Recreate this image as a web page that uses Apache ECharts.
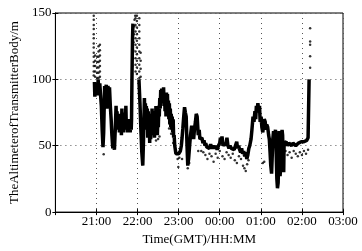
<!DOCTYPE html>
<html>
<head>
<meta charset="utf-8">
<script src="https://cdn.jsdelivr.net/npm/echarts@6/dist/echarts.min.js"></script>
<style>
html,body{margin:0;padding:0;background:#fff;}
#chart{width:362px;height:251px;}
</style>
</head>
<body>
<div id="chart"></div>
<script>
// minutes after 20:00 GMT
var xTickLabels = ['', '21:00', '22:00', '23:00', '00:00', '01:00', '02:00', '03:00'];
var yTicks = [0, 50, 100, 150];

var lineMinutes = [57.0,57.6,58.5,59.5,60.5,61.5,62.4,63.5,64.8,66.0,67.1,68.3,69.5,70.5,71.9,73.0,74.3,75.2,76.7,78.0,79.0,80.2,81.4,82.5,83.8,85.0,86.2,87.4,
88.6,89.3,90.0,90.7,91.4,92.1,92.8,93.5,94.2,95.0,95.7,96.4,97.1,97.8,98.5,99.2,100.0,100.7,101.4,102.1,102.9,103.6,104.3,105.0,105.7,106.4,107.1,107.8,108.5,109.2,110.0,110.7,111.2,
111.8,112.6,113.2,113.8,
122.0,123.5,125.0,126.2,127.6,128.7,
130.0,130.7,131.4,132.1,132.8,133.5,134.2,134.9,135.6,136.3,137.0,137.7,138.4,139.1,139.8,140.5,141.2,141.9,142.6,143.3,144.0,144.7,145.4,146.1,146.8,147.5,148.2,148.9,149.6,150.3,151.0,151.7,152.4,153.1,153.8,154.5,155.2,155.9,156.6,157.3,158.0,158.7,159.4,160.1,160.8,161.5,162.2,162.9,163.6,164.3,165.0,165.7,166.4,167.1,167.8,168.5,169.2,169.9,170.6,171.3,172.0,172.7,173.4,174.3,
176.0,177.9,180.0,181.4,182.5,183.9,185.0,186.1,187.4,188.6,189.8,191.0,192.2,193.3,194.5,195.7,197.3,
199.0,200.4,201.9,203.0,204.5,205.7,207.0,208.6,210.0,211.0,212.4,214.0,215.5,217.0,218.5,219.5,221.0,222.9,224.8,226.7,228.6,230.5,232.4,234.3,236.2,238.1,240.0,241.0,242.0,243.3,244.8,246.2,247.6,249.0,250.5,252.0,253.5,255.0,257.0,259.0,261.0,262.9,264.8,266.0,267.6,269.0,270.5,272.0,273.3,275.0,276.5,278.0,279.5,281.0,282.5,283.8,
285.7,287.0,288.6,290.0,291.4,292.5,293.5,294.5,295.7,297.0,298.1,299.0,300.4,301.5,302.9,304.0,305.0,306.4,307.5,308.6,310.0,311.4,312.4,313.5,314.5,315.7,316.5,317.5,318.6,319.5,320.5,321.4,322.4,323.4,324.3,325.3,326.0,326.7,327.4,328.1,329.0,330.0,331.0,331.8,332.6,333.4,334.0,335.5,337.0,339.0,341.0,343.0,345.0,347.0,349.0,351.0,353.0,355.0,357.0,359.0,361.0,363.0,365.0,367.0,369.0,370.5,371.5,372.0];

var altitude = [98,87,97,88,96,88,100,90,97,88,80,62,49,60,95,90,96,78,95,90,94,80,70,58,48,52,47,62,
80,66,76,62,74,64,72,60,74,62,70,58,78,64,70,60,75,64,72,62,80,64,70,60,68,62,70,61,68,60,66,62,70,
100,130,142,null,
100,82,60,45,35,55,
86,70,82,66,80,62,78,56,76,60,72,52,68,55,74,60,78,62,76,58,70,56,74,62,80,66,76,58,70,64,80,72,86,78,92,84,93,82,92,84,94,80,90,76,88,72,90,78,89,74,84,70,82,66,78,64,74,62,72,60,70,56,58,50,
44,43,44,43,46,50,56,63,72,79,75,72,50,35,40,48,58,
65,60,55,62,68,74,72,58,62,55,54,56,52,54,50,52,49,50,48,51,48,50,48,50,47,50,52,56,53,57,50,49,52,50,56,50,48,50,48,49,47,50,53,48,50,47,45,48,44,46,42,45,40,43,48,50,
55,62,72,68,76,70,80,75,82,76,80,68,72,64,60,66,70,68,62,66,64,58,55,45,35,29,40,55,61,50,58,62,45,25,18,22,40,61,45,27,35,50,62,58,40,30,52,51,53,50,52,51,50,52,51,50,51,52,51,53,52,53,54,54,56,100];

var dotMinutes = [56,56,56,56,56,56,56,56,56,56,56,56,56,56,
58,58,58,58,58,61,61,61,61,61,63,63,63,63,63,63,63,65,65,65,65,65,65,65,
112,112.5,113,113.5,114,114.5,115,115.5,116.5,
117,117,117,117,117,117,117,117,117,119,119,119,119,119,119,119,119,119,119,
122.5,122.5,122.5,122.5,122.5,122.5,122.5,122.5,122.5,122.5,124.5,124.5,124.5,124.5,
70.5,147,150,152,166,169,172,178.5,179.5,181,185,193.3,195.5,208.6,213,216,219,222,225,228,231,234,237,240,244,247,250,253,256,259,262,265,268,271,274,276,278,280,282,302.9,305,336,339,342,345,348,351,354,357,360,363,366,369,
372,372,372,372,372];

var dotValues = [148,145,141,138,134,131,127,124,120,117,113,110,106,103,
118,114,110,106,102,117,113,109,105,101,125,121,117,113,109,105,101,126,122,118,114,110,106,102,
104,110,116,122,128,134,140,145,148,
146,141,136,131,126,121,116,111,106,148,144,139,134,129,124,119,114,109,104,
146,141,136,131,126,121,116,111,106,101,120,114,108,102,
43.5,54,55,57,63,59,52,40,34,41,40,33,37,46,46,45,43,40,44,42,38,44,41,46,42,40,45,43,41,44,39,37,42,40,35,33,31,36,39,37,38,46,43,45,41,46,44,42,45,43,46,44,47,
108.7,117.4,126,128.6,138.6];

var lineData = lineMinutes.map(function(m, i){ return [m, altitude[i] === null ? '-' : altitude[i]]; });
var dotData = dotMinutes.map(function(m, i){ return [m, dotValues[i]]; });

var font = 'Liberation Serif';
var chart = echarts.init(document.getElementById('chart'), null, {renderer: 'canvas'});
var splitStyle = {show: true, lineStyle: {color: '#555', type: [1, 4], width: 1}};

chart.setOption({
  animation: false,
  backgroundColor: '#fff',
  grid: {left: 48, right: 19, top: 13, bottom: 37, show: true, borderColor: '#000', borderWidth: 1},
  xAxis: [{
    type: 'value', min: 0, max: 420, interval: 60,
    name: 'Time(GMT)/HH:MM', nameLocation: 'middle', nameGap: 19,
    nameTextStyle: {fontFamily: font, fontSize: 13, color: '#000'},
    axisLine: {show: true, lineStyle: {color: '#000', width: 1}},
    axisTick: {show: true, inside: true, length: 3, lineStyle: {color: '#000'}},
    axisLabel: {fontFamily: font, fontSize: 13, color: '#000', margin: 3,
      formatter: function(v){ return xTickLabels[Math.round(v / 60)]; }},
    splitLine: splitStyle
  }, {
    type: 'value', min: 0, max: 420, interval: 60, position: 'top',
    axisLine: {show: true, lineStyle: {color: '#000'}},
    axisTick: {show: true, inside: true, length: 3, lineStyle: {color: '#000'}},
    axisLabel: {show: false}, splitLine: {show: false}
  }],
  yAxis: [{
    type: 'value', min: yTicks[0], max: yTicks[yTicks.length - 1], interval: 50,
    name: 'TheAltimeterofTransmitterBody/m', nameLocation: 'middle', nameGap: 27,
    nameTextStyle: {fontFamily: font, fontSize: 13, color: '#000'},
    axisLine: {show: true, lineStyle: {color: '#000', width: 1}},
    axisTick: {show: true, inside: true, length: 3, lineStyle: {color: '#000'}},
    axisLabel: {fontFamily: font, fontSize: 13, color: '#000', margin: 4},
    splitLine: splitStyle
  }, {
    type: 'value', min: 0, max: 150, interval: 50, position: 'right',
    axisLine: {show: true, lineStyle: {color: '#000'}},
    axisTick: {show: true, inside: true, length: 3, lineStyle: {color: '#000'}},
    axisLabel: {show: false}, splitLine: {show: false}
  }],
  series: [{
    type: 'scatter', data: dotData, symbol: 'circle', symbolSize: 2.5,
    itemStyle: {color: '#000'}, silent: true, z: 2
  }, {
    type: 'line', data: lineData, showSymbol: false, symbol: 'none',
    connectNulls: false, lineStyle: {color: '#000', width: 3.5}, silent: true, z: 3
  }]
});
</script>
</body>
</html>
